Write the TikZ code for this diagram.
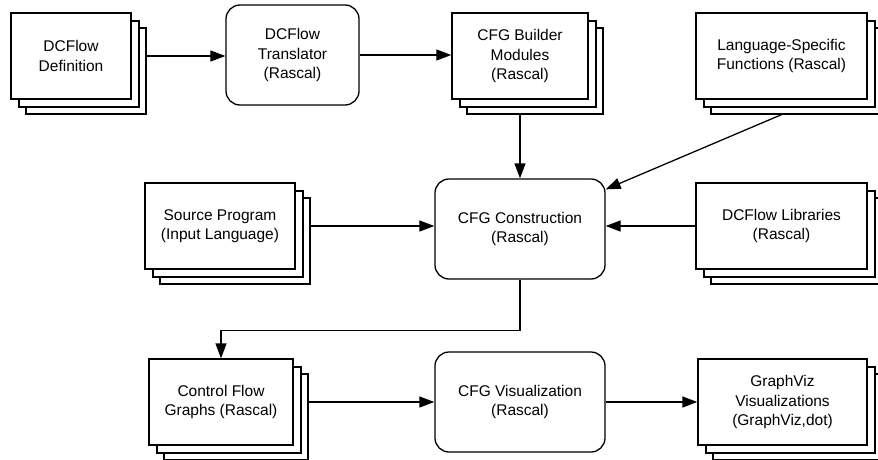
\documentclass[tikz,border=0pt]{standalone}
\usepackage{fontspec}
\setmainfont{Liberation Sans}
\usetikzlibrary{arrows.meta,calc}
\newcommand\stackednode[5]{%
  \draw[line width=1.3pt, fill=white] ({#2-#4/2+15},{#3-43+15}) rectangle ++(#4,86);
  \draw[line width=1.3pt, fill=white] ({#2-#4/2+8},{#3-43+8}) rectangle ++(#4,86);
  \node[stackbox, minimum width=#4pt] (#1) at (#2,#3) {#5};}
\begin{document}
\begin{tikzpicture}[x=1pt,y=-1pt, line width=1.3pt,
  every node/.style={font=\fontsize{15.5}{19.5}\selectfont, align=center},
  stackbox/.style={draw, fill=white, minimum height=86pt, inner sep=2pt, line width=1.3pt},
  roundbox/.style={draw, fill=white, rounded corners=14pt, minimum height=100pt, inner sep=2pt, line width=1.3pt},
  arr/.style={line width=1.3pt, -{Triangle[length=15pt,width=11pt]}}]
\useasboundingbox (0,0) rectangle (878,460);
\stackednode{def}{71}{56}{120}{DCFlow\\Definition}
\node[roundbox, minimum width=133pt] (trans) at (292.5,55) {DCFlow\\Translator\\(Rascal)};
\stackednode{build}{520}{56}{136}{CFG Builder\\Modules\\(Rascal)}
\stackednode{lang}{781.5}{56}{171}{Language-Specific\\Functions (Rascal)}
\stackednode{src}{220}{226}{150}{Source Program\\(Input Language)}
\node[roundbox, minimum width=170pt] (cons) at (520,229) {CFG Construction\\(Rascal)};
\stackednode{lib}{781.5}{226}{171}{DCFlow Libraries\\(Rascal)}
\stackednode{cfg}{221}{402}{144}{Control Flow\\Graphs (Rascal)}
\node[roundbox, minimum width=170pt] (vis) at (520,402) {CFG Visualization\\(Rascal)};
\stackednode{gv}{782.5}{402}{169}{GraphViz\\Visualizations\\(GraphViz,dot)}

\draw[arr] ([xshift=15pt]def.east) -- (trans.west |- def.east);
\draw[arr] (trans.east) -- (build.west |- trans.east);
\draw[arr] ([yshift=-15pt]build.south) -- (cons.north);
\draw[arr] ([yshift=-15pt]lang.south) -- ([yshift=-11pt]cons.north east);
\draw[arr] ([xshift=15pt]src.east) -- (cons.west |- src.east);
\draw[arr] (lib.west) -- (cons.east |- lib.west);
\draw[arr] (cons.south) -- ++(0,51) -| (cfg.north);
\draw[arr] ([xshift=15pt]cfg.east) -- (vis.west |- cfg.east);
\draw[arr] (vis.east) -- (gv.west |- vis.east);
\end{tikzpicture}
\end{document}
